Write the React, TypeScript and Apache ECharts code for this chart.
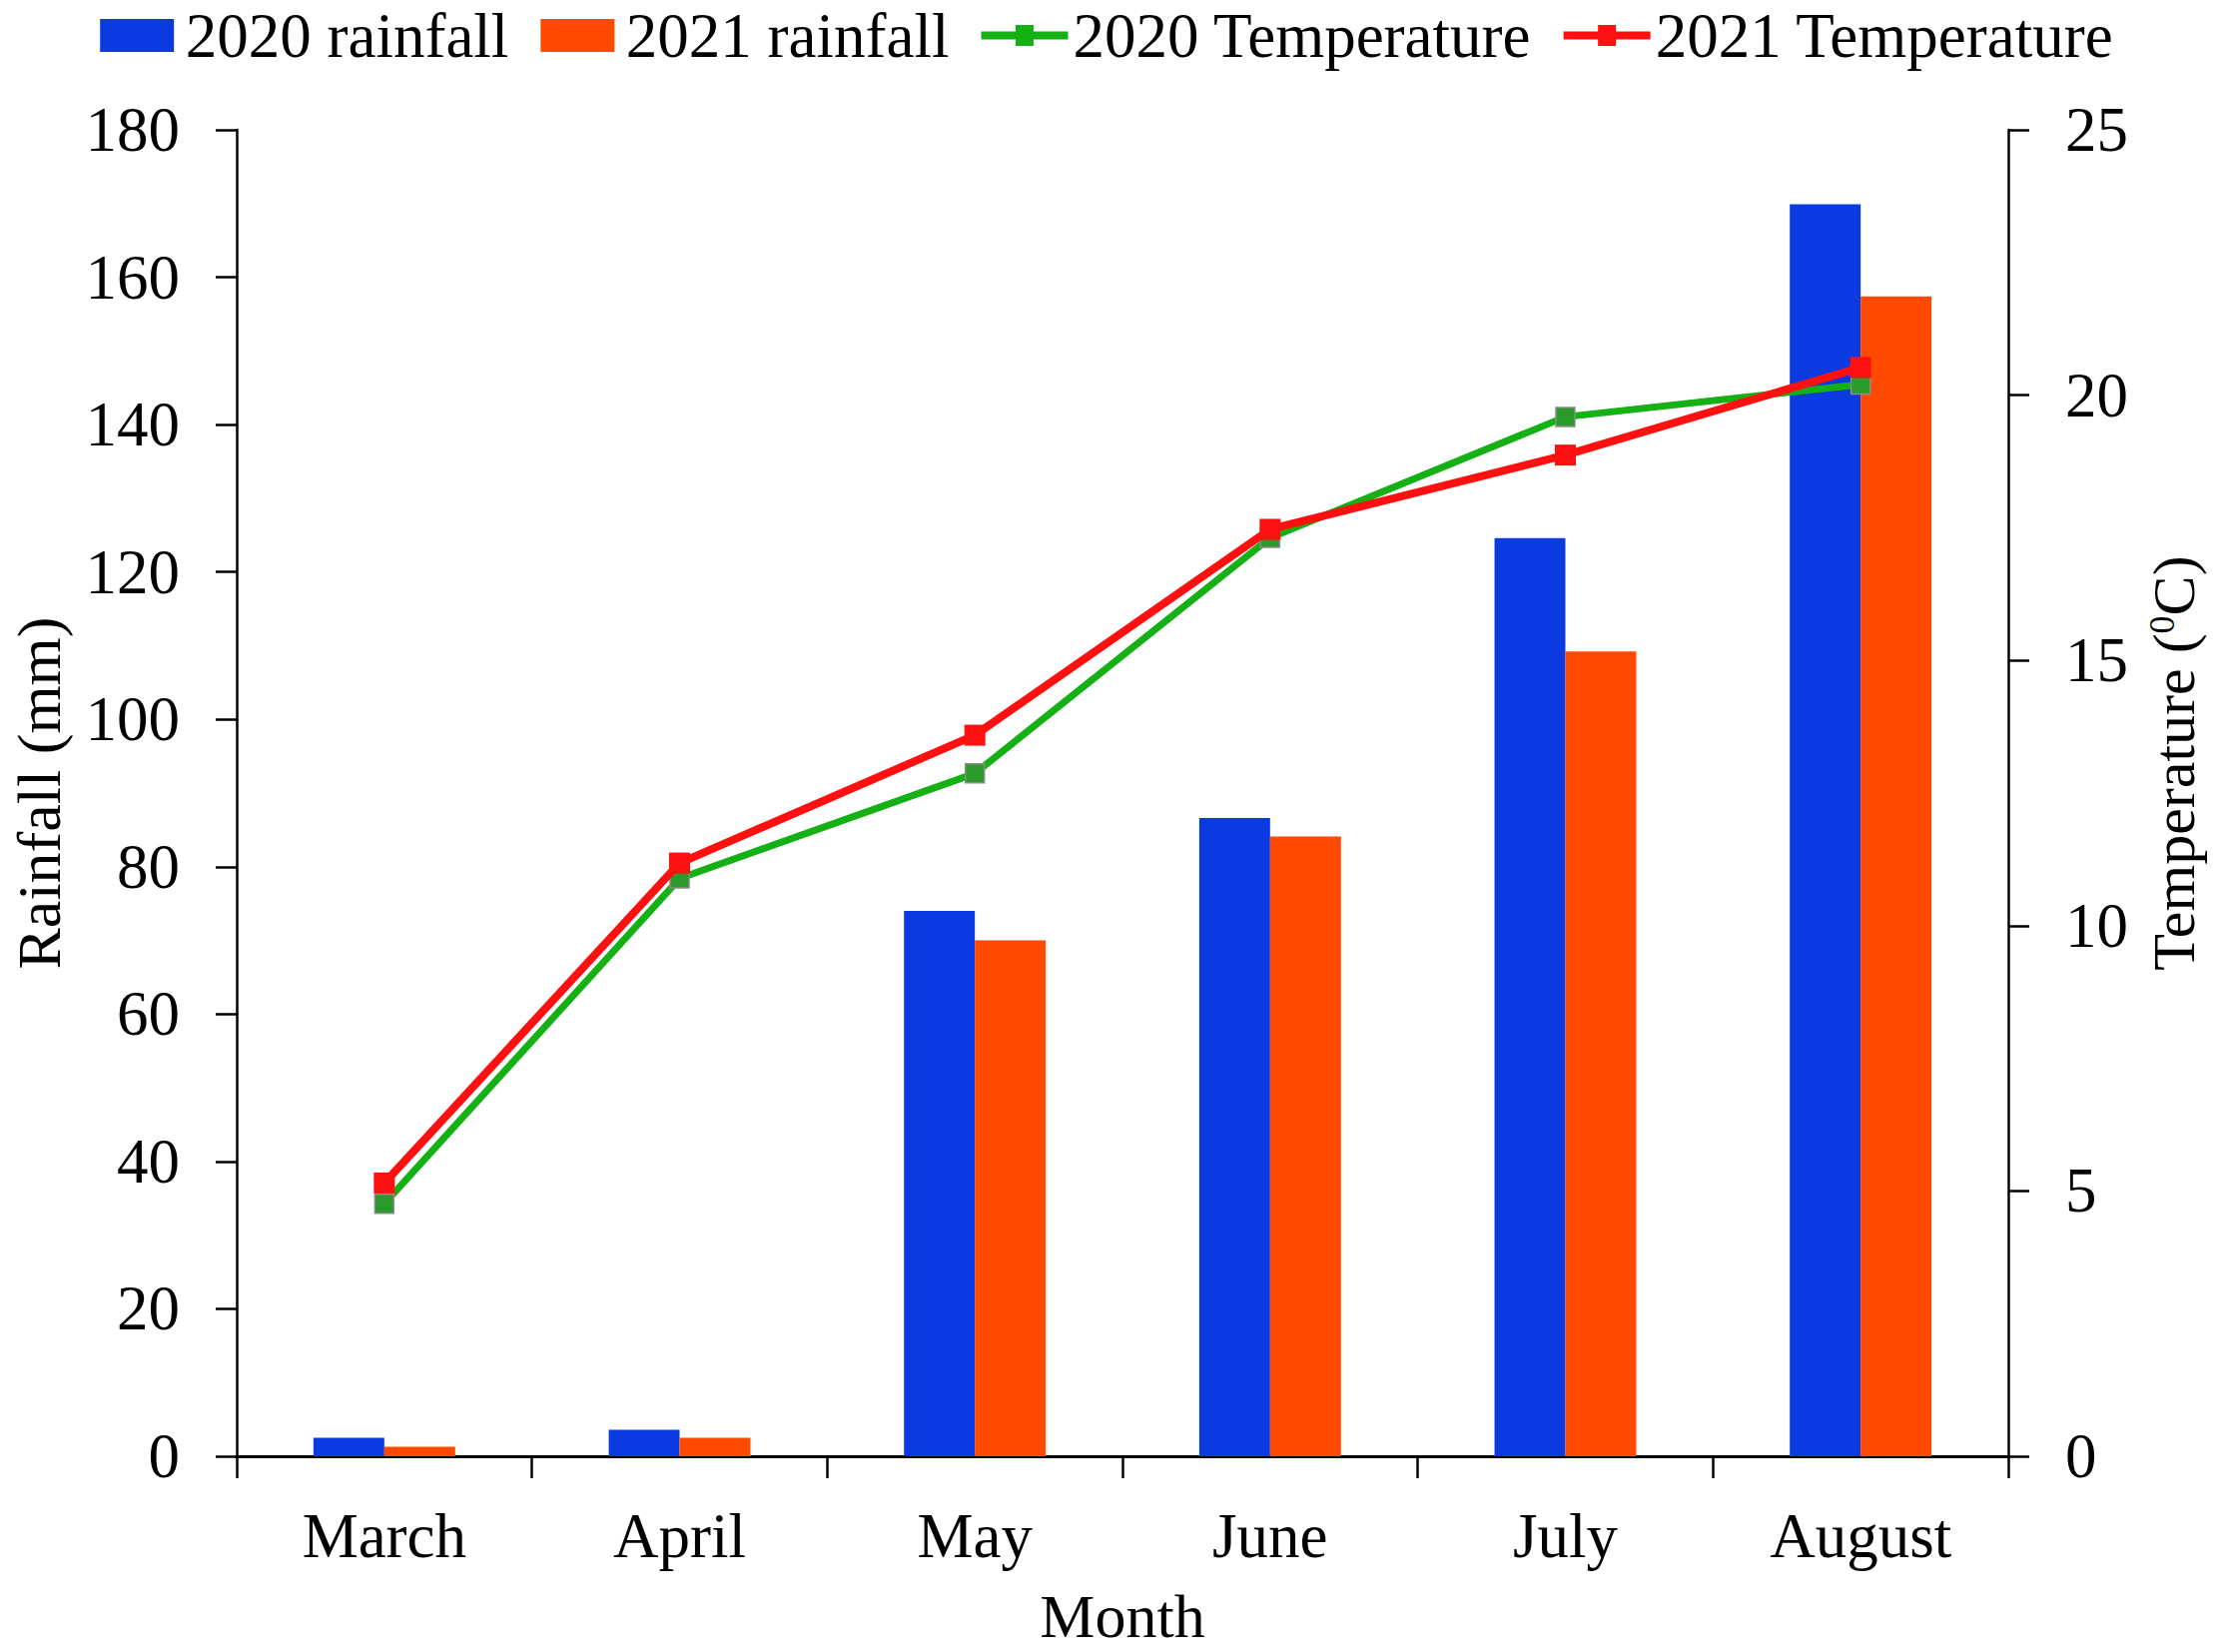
import React, { useEffect, useRef } from 'react';
import * as echarts from 'echarts';

const months = ['March', 'April', 'May', 'June', 'July', 'August'];
const rain2020 = [2.5, 3.6, 74.0, 86.6, 124.6, 169.9];
const rain2021 = [1.3, 2.5, 70.0, 84.1, 109.2, 157.4];
const temp2020 = [4.76, 10.89, 12.87, 17.31, 19.59, 20.2];
const temp2021 = [5.15, 11.18, 13.59, 17.47, 18.87, 20.52];
const rainTicks = { min: 0, max: 180, interval: 20 };
const tempTicks = { min: 0, max: 25, interval: 5 };

const FONT = '"Liberation Serif", "Times New Roman", serif';
const BLUE = '#0b3be0';
const ORANGE = '#ff4a00';
const GREEN_LINE = '#14b014';
const GREEN_MARK = '#2a9a2a';
const RED = '#ff1010';
const RECT_ICON = 'path://M0,0h74v33h-74z';
const LINE_ICON = 'path://M0,12.5h87v8h-87z M34.5,6h18v21h-18z';

export default function App() {
  const ref = useRef<HTMLDivElement>(null);
  useEffect(() => {
    document.body.style.margin = '0';
    const chart = echarts.init(ref.current!, null, { renderer: 'svg' });
    const axisText = { fontFamily: FONT, fontSize: 63, color: '#000' };
    const nameText = { fontFamily: FONT, fontSize: 62, color: '#000' };
    chart.setOption({
      animation: false,
      backgroundColor: '#fff',
      textStyle: { fontFamily: FONT },
      legend: {
        top: 4,
        left: 'center',
        padding: 0,
        itemWidth: 87,
        itemHeight: 33,
        itemGap: 32,
        textStyle: { ...axisText, lineHeight: 56 },
        data: [
          { name: '2020 rainfall', icon: RECT_ICON },
          { name: '2021 rainfall', icon: RECT_ICON },
          { name: '2020 Temperature', icon: LINE_ICON, itemStyle: { color: GREEN_LINE, borderWidth: 0 } },
          { name: '2021 Temperature', icon: LINE_ICON, itemStyle: { color: RED, borderWidth: 0 } },
        ],
      },
      grid: { left: 226, right: 206, top: 130, bottom: 186, containLabel: false },
      xAxis: {
        type: 'category',
        data: months,
        boundaryGap: true,
        axisLine: { show: true, lineStyle: { color: '#000', width: 3 } },
        axisTick: { show: true, inside: false, length: 22, alignWithLabel: false, lineStyle: { color: '#000', width: 2.5 } },
        axisLabel: { ...axisText, margin: 48 },
        splitLine: { show: false },
        name: 'Month',
        nameLocation: 'middle',
        nameGap: 129,
        nameTextStyle: { ...nameText },
      },
      yAxis: [
        {
          type: 'value',
          ...rainTicks,
          position: 'left',
          axisLine: { show: true, lineStyle: { color: '#000', width: 2.5 } },
          axisTick: { show: true, inside: false, length: 21, lineStyle: { color: '#000', width: 2.5 } },
          axisLabel: { ...axisText, margin: 57 },
          splitLine: { show: false },
          name: 'Rainfall (mm)',
          nameLocation: 'middle',
          nameRotate: 90,
          nameGap: 167,
          nameTextStyle: { ...nameText },
        },
        {
          type: 'value',
          ...tempTicks,
          position: 'right',
          axisLine: { show: true, lineStyle: { color: '#000', width: 2.5 } },
          axisTick: { show: true, inside: false, length: 21, lineStyle: { color: '#000', width: 2.5 } },
          axisLabel: { ...axisText, margin: 57 },
          splitLine: { show: false },
          name: '{a|Temperature (}{s|0}{a|C)}',
          nameLocation: 'middle',
          nameRotate: 90,
          nameGap: 136,
          nameTextStyle: {
            fontFamily: FONT,
            fontSize: 60,
            color: '#000',
            padding: [0, 0, 0, 60],
            rich: {
              a: { fontFamily: FONT, fontSize: 60, color: '#000', lineHeight: 60 },
              s: { fontFamily: FONT, fontSize: 36, color: '#000', verticalAlign: 'top', lineHeight: 60 },
            },
          },
        },
      ],
      series: [
        {
          name: '2020 rainfall',
          type: 'bar',
          data: rain2020,
          yAxisIndex: 0,
          barWidth: '24%',
          barGap: '0%',
          itemStyle: { color: BLUE },
        },
        {
          name: '2021 rainfall',
          type: 'bar',
          data: rain2021,
          yAxisIndex: 0,
          barWidth: '24%',
          barGap: '0%',
          itemStyle: { color: ORANGE },
        },
        {
          name: '2020 Temperature',
          type: 'line',
          data: temp2020,
          yAxisIndex: 1,
          symbol: 'rect',
          symbolSize: 19,
          showSymbol: true,
          lineStyle: { color: GREEN_LINE, width: 7 },
          itemStyle: { color: GREEN_MARK, borderColor: '#8c8c8c', borderWidth: 1.5 },
          z: 3,
        },
        {
          name: '2021 Temperature',
          type: 'line',
          data: temp2021,
          yAxisIndex: 1,
          symbol: 'rect',
          symbolSize: 21,
          showSymbol: true,
          lineStyle: { color: RED, width: 8 },
          itemStyle: { color: RED },
          z: 4,
        },
      ],
    });
    return () => chart.dispose();
  }, []);
  return <div ref={ref} style={{ width: 2217, height: 1654 }} />;
}
